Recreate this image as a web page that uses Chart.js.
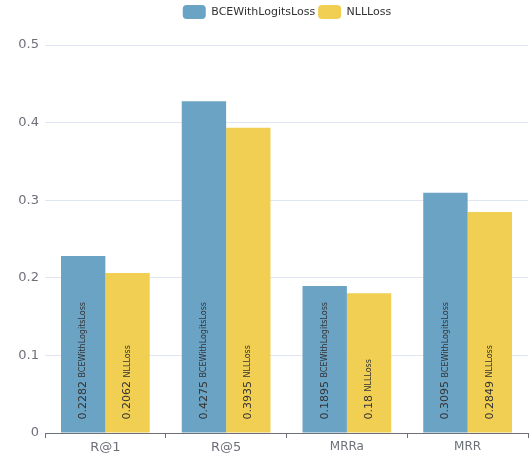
<!DOCTYPE html>
<html>
<head>
<meta charset="utf-8">
<script src="https://cdn.jsdelivr.net/npm/chart.js@4/dist/chart.umd.min.js"></script>
<style>
  html, body { margin: 0; padding: 0; background: #fff; }
  #wrap { width: 532px; height: 454px; }
</style>
</head>
<body>
<div id="wrap"><canvas id="lossChart"></canvas></div>
<script>
var categories = ['R@1', 'R@5', 'MRRa', 'MRR'];
var seriesNames = ['BCEWithLogitsLoss', 'NLLLoss'];
var bceValues = [0.2282, 0.4275, 0.1895, 0.3095];
var nllValues = [0.2062, 0.3935, 0.18, 0.2849];
var yTicks = [0, 0.1, 0.2, 0.3, 0.4, 0.5];

var blue = '#6ba3c5',
    yellow = '#f1cf53',
    axisGrey = '#6e7079';

Chart.defaults.font.family = "'DejaVu Sans', sans-serif";

// value + series name written upward inside each bar
var barLabels = {
    id: 'barLabels',
    afterDatasetsDraw: function (chart) {
        var ctx = chart.ctx;
        chart.data.datasets.forEach(function (ds, di) {
            var meta = chart.getDatasetMeta(di);
            meta.data.forEach(function (bar, i) {
                var value = String(ds.data[i]);
                ctx.save();
                ctx.translate(bar.x, bar.base - 13);
                ctx.rotate(-Math.PI / 2);
                ctx.textAlign = 'left';
                ctx.textBaseline = 'middle';
                ctx.fillStyle = '#333';
                ctx.font = "11px 'DejaVu Sans'";
                ctx.fillText(value, 0, 0);
                var w = ctx.measureText(value + ' ').width;
                ctx.font = "8px 'DejaVu Sans'";
                ctx.fillText(ds.label, w, 0);
                ctx.restore();
            });
        });
    }
};

var legendFix = {
    id: 'legendFix',
    beforeInit: function (chart) {
        var fit = chart.legend.fit;
        chart.legend.fit = function () {
            fit.bind(chart.legend)();
            this.height = 43;
        };
    },
    afterLayout: function (chart) {
        chart.legend.left += 23;
        chart.legend.right += 23;
    }
};

new Chart(document.getElementById('lossChart'), {
    type: 'bar',
    data: {
        labels: categories,
        datasets: [
            {
                label: seriesNames[0],
                data: bceValues,
                backgroundColor: blue,
                categoryPercentage: 0.735,
                barPercentage: 1
            },
            {
                label: seriesNames[1],
                data: nllValues,
                backgroundColor: yellow,
                categoryPercentage: 0.735,
                barPercentage: 1
            }
        ]
    },
    options: {
        responsive: true,
        maintainAspectRatio: false,
        animation: false,
        layout: { padding: { top: 2, right: 4, left: 0, bottom: 0 } },
        plugins: {
            legend: {
                labels: {
                    boxWidth: 23,
                    boxHeight: 14,
                    useBorderRadius: true,
                    borderRadius: 4,
                    padding: 3,
                    color: '#333',
                    font: { size: 11 }
                }
            },
            tooltip: { enabled: false }
        },
        scales: {
            x: {
                grid: {
                    drawOnChartArea: false,
                    drawTicks: true,
                    tickLength: 5,
                    color: axisGrey
                },
                border: { color: axisGrey },
                ticks: {
                    color: axisGrey,
                    padding: 2,
                    font: function (c) { return { size: c.index < 2 ? 13 : 12 }; }
                },
                afterFit: function (scale) { scale.height = 21; }
            },
            y: {
                min: 0,
                max: 0.5,
                afterBuildTicks: function (scale) {
                    scale.ticks = yTicks.map(function (v) { return { value: v }; });
                },
                grid: { color: '#e0e6f1', drawTicks: false },
                border: { display: false },
                ticks: {
                    color: axisGrey,
                    padding: 6,
                    font: { size: 13 }
                },
                afterFit: function (scale) { scale.width = 45; }
            }
        }
    },
    plugins: [barLabels, legendFix]
});
</script>
</body>
</html>
